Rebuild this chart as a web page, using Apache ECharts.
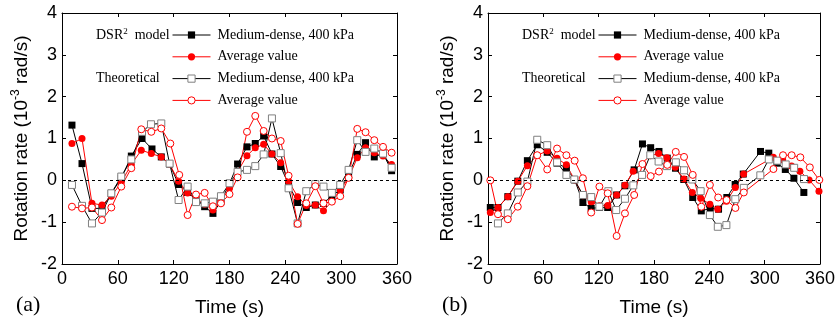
<!DOCTYPE html>
<html><head><meta charset="utf-8">
<script src="https://cdn.jsdelivr.net/npm/echarts@6/dist/echarts.min.js"></script>
<style>html,body{margin:0;padding:0;background:#fff}#c{width:838px;height:322px}</style>
</head><body><div id="c"></div>
<script>
// ---------- axis ticks ----------
const xTicks = [0, 60, 120, 180, 240, 300, 360];
const yTicks = [-2, -1, 0, 1, 2, 3, 4];

// ---------- panel (a) ----------
const aDsrMdT = [10.7, 21.5, 32.2, 43, 53, 63.7, 74.5, 86, 96.7, 106.7, 115.6, 125.3, 135, 144, 153.3, 162.2, 170.8, 180, 188.7, 198.8, 207.7, 216.7, 225.6, 235, 243.5, 253.2, 262.5, 272.2, 281, 290, 299, 308, 317.3, 326.2, 335.6, 345, 354.2];
const aDsrMdV = [1.32, 0.40, -0.67, -0.67, -0.31, 0.05, 0.58, 1.0, 0.75, 0.56, 0.39, -0.1, -0.29, -0.45, -0.63, -0.79, -0.5, -0.08, 0.39, 0.8, 0.88, 1.06, 0.63, 0.33, -0.1, -0.53, -0.65, -0.59, -0.55, -0.37, -0.23, 0.13, 0.62, 0.9, 0.56, 0.64, 0.23];

const aDsrAvgT = [10.7, 21.5, 32.2, 43, 53, 63.7, 74.5, 85.2, 96, 106.7, 115.6, 125.3, 135, 144, 153.3, 162.2, 170.8, 180, 188.7, 198.8, 207.7, 216.7, 225.6, 235, 243.5, 253.2, 262.5, 272.2, 281, 290, 299, 308, 317.3, 326.2, 335.6, 345, 354.2];
const aDsrAvgV = [0.88, 1.0, -0.55, -0.59, -0.38, -0.05, 0.38, 0.72, 0.64, 0.56, 0.39, -0.02, -0.3, -0.45, -0.57, -0.71, -0.5, -0.19, 0.21, 0.59, 0.78, 0.86, 0.63, 0.42, -0.02, -0.39, -0.6, -0.59, -0.73, -0.5, -0.23, 0.06, 0.54, 0.78, 0.66, 0.58, 0.38];

const aThMdT = [10.7, 21.5, 32.2, 43, 53, 63.7, 74.5, 86, 95.6, 106.7, 115.6, 125.3, 135, 144, 153.3, 162.2, 170.8, 180, 188.7, 198.8, 207.7, 216.7, 225.6, 235, 243.5, 253.2, 262.5, 272.2, 281, 290, 299, 308, 317.3, 326.2, 335.6, 345, 354.2];
const aThMdV = [-0.11, -0.61, -1.03, -0.77, -0.31, 0.09, 0.5, 1.16, 1.34, 1.36, 0.4, -0.47, -0.15, -0.52, -0.55, -0.51, -0.38, -0.07, 0.2, 0.25, 0.34, 0.62, 1.48, 0.65, -0.19, -1.03, -0.26, -0.09, -0.15, -0.3, -0.11, 0.25, 0.96, 0.68, 0.76, 0.64, 0.3];

const aThAvgT = [10.7, 21.5, 32.2, 43, 53, 63.7, 74.5, 85.2, 96, 106.7, 116.4, 126, 135, 144, 153.3, 162.2, 170.8, 180, 188.7, 198.8, 207.7, 216.7, 225.6, 235, 243.5, 253.2, 262.5, 272.2, 281, 290, 299, 308, 317.3, 326.2, 335.6, 345, 354.2];
const aThAvgV = [-0.63, -0.67, -0.65, -0.95, -0.65, -0.15, 0.29, 1.22, 1.16, 1.24, 0.88, 0.13, -0.83, -0.34, -0.3, -0.62, -0.55, -0.33, 0.07, 1.16, 1.54, 1.18, 1.0, 0.94, 0.11, -1.04, -0.55, -0.14, -0.55, -0.51, -0.38, 0.06, 1.23, 1.15, 0.96, 0.8, 0.66];

// ---------- panel (b) ----------
const bDsrMdT = [2.5, 10.8, 21.5, 32.3, 42.7, 53.4, 64.2, 74.9, 85, 94, 102.9, 111.9, 120.8, 129.8, 139.5, 148.5, 158.5, 167.5, 176.4, 185.4, 194.4, 203.3, 212.3, 222, 231.3, 241, 250, 259, 268, 276.8, 295.5, 304.5, 313.4, 322.4, 331.7, 342.5];
const bDsrMdV = [-0.65, -0.65, -0.39, -0.02, 0.47, 0.85, 0.67, 0.41, 0.29, 0.01, -0.53, -0.67, -0.65, -0.65, -0.35, -0.13, 0.25, 0.87, 0.78, 0.69, 0.53, 0.29, 0.02, -0.41, -0.73, -0.67, -0.69, -0.41, -0.1, 0.15, 0.69, 0.65, 0.41, 0.26, 0.05, -0.29];

const bDsrAvgT = [2.5, 10.8, 21.5, 32.3, 42.7, 53.4, 64.2, 74.9, 85, 94, 102.9, 111.9, 120.8, 129.8, 139.5, 148.5, 157.4, 176, 185, 194, 203, 212.5, 221.6, 230.6, 240.6, 249.2, 258.5, 268.2, 277.2, 309.4, 319.5, 329.2, 338.2, 348.2, 358.9];
const bDsrAvgV = [-0.77, -0.65, -0.39, -0.02, 0.35, 0.6, 0.7, 0.53, 0.37, 0.01, -0.37, -0.51, -0.61, -0.6, -0.35, -0.12, 0.22, 0.59, 0.64, 0.54, 0.31, 0.03, -0.29, -0.43, -0.57, -0.69, -0.5, -0.17, 0.15, 0.55, 0.5, 0.34, 0.22, 0.01, -0.26];

const bThMdT = [10.8, 21.5, 32.3, 42.7, 53.4, 64.2, 74.9, 85, 93.6, 102.9, 111.9, 120.8, 130.5, 139, 148.5, 157.6, 167.1, 176, 185, 194, 203.7, 212.6, 221.6, 230.6, 240.6, 249.2, 258.5, 268.2, 277.4, 295.3, 304.5, 313.8, 322.8, 332, 342.7];
const bThMdV = [-1.03, -0.79, -0.29, -0.03, 0.97, 0.84, 0.43, 0.13, 0.02, -0.35, -0.4, -0.63, -0.26, -0.71, -0.44, -0.12, 0.13, 0.6, 0.45, 0.34, 0.43, 0.24, 0.02, -0.26, -0.83, -1.11, -1.07, -0.45, -0.18, 0.12, 0.5, 0.47, 0.38, 0.3, 0.03];

const bThAvgT = [2.5, 10.8, 21.5, 32.3, 42.7, 53.4, 64.2, 74.9, 85, 94, 102.9, 111.9, 120.8, 129.8, 139.5, 148.5, 158.5, 167.5, 176.4, 185.4, 194.4, 203.6, 212.6, 222, 231.3, 240.6, 249.6, 258.7, 268.3, 277.4, 309.5, 319.9, 329.3, 338.7, 349, 359.3];
const bThAvgV = [0.0, -0.81, -0.93, -0.63, -0.14, 0.6, 0.26, 0.76, 0.6, 0.47, 0.05, -0.77, -0.15, -0.31, -1.33, -0.79, -0.35, 0.39, 0.1, 0.21, 0.37, 0.68, 0.56, 0.13, -0.63, -0.11, -0.41, -0.47, -0.66, -0.29, 0.27, 0.6, 0.6, 0.55, 0.31, 0.01];

// ---------- texts ----------
const seriesNames = ['dsrMd', 'dsrAvg', 'thMd', 'thAvg'];
const legendLabels = {dsrMd: 'Medium-dense, 400 kPa', dsrAvg: 'Average value', thMd: 'Medium-dense, 400 kPa', thAvg: 'Average value'};
const panelLabels = ['(a)', '(b)'];
const xTitle = 'Time (s)';

// ---------- build ----------
const zip = (t, v) => t.map((x, i) => [x, v[i]]);
const SANS = 'Liberation Sans, Arial, sans-serif';
const SERIF = 'Liberation Serif, Times New Roman, serif';
const RED = '#ff0000';

const panels = [
  {left: 62, right: 441, dsrMd: zip(aDsrMdT, aDsrMdV), dsrAvg: zip(aDsrAvgT, aDsrAvgV), thMd: zip(aThMdT, aThMdV), thAvg: zip(aThAvgT, aThAvgV)},
  {left: 488, right: 16, dsrMd: zip(bDsrMdT, bDsrMdV), dsrAvg: zip(bDsrAvgT, bDsrAvgV), thMd: zip(bThMdT, bThMdV), thAvg: zip(bThAvgT, bThAvgV)}
];

const grid = [], xAxis = [], yAxis = [], series = [], legend = [], graphic = [];
const tick = {show: true, inside: true, length: 4, lineStyle: {color: '#000', width: 1}};
const line = {show: true, onZero: false, lineStyle: {color: '#000', width: 1}};

panels.forEach((p, i) => {
  grid.push({left: p.left, right: p.right, top: 13, bottom: 58, containLabel: false});
  xAxis.push({type: 'value', gridIndex: i, min: xTicks[0], max: xTicks[xTicks.length - 1], interval: 60, position: 'bottom',
    axisLine: line, axisTick: tick, splitLine: {show: false},
    axisLabel: {color: '#000', fontSize: 18, fontFamily: SANS, margin: 6},
    name: xTitle, nameLocation: 'middle', nameGap: 34, nameTextStyle: {color: '#000', fontSize: 19, fontFamily: SANS}});
  xAxis.push({type: 'value', gridIndex: i, min: xTicks[0], max: xTicks[xTicks.length - 1], interval: 60, position: 'top',
    axisLine: line, axisTick: tick, splitLine: {show: false}, axisLabel: {show: false}});
  yAxis.push({type: 'value', gridIndex: i, min: yTicks[0], max: yTicks[yTicks.length - 1], interval: 1, position: 'left',
    axisLine: line, axisTick: tick, splitLine: {show: false},
    axisLabel: {color: '#000', fontSize: 18, fontFamily: SANS, margin: 5},
    name: '{n|Rotation rate (10}{s|-3}{n| rad/s)}', nameLocation: 'middle', nameGap: 28,
    nameTextStyle: {color: '#000', rich: {n: {fontSize: 19, fontFamily: SANS, color: '#000'}, s: {fontSize: 12, fontFamily: SANS, color: '#000', padding: [0, 0, 12, 0]}}}});
  yAxis.push({type: 'value', gridIndex: i, min: yTicks[0], max: yTicks[yTicks.length - 1], interval: 1, position: 'right',
    axisLine: line, axisTick: tick, splitLine: {show: false}, axisLabel: {show: false}});

  const xi = i * 2, yi = i * 2;
  series.push({name: 'dsrMd', type: 'line', xAxisIndex: xi, yAxisIndex: yi, data: p.dsrMd,
    symbol: 'rect', symbolSize: 7, lineStyle: {color: '#000', width: 1}, itemStyle: {color: '#000'},
    markLine: {silent: true, symbol: 'none', label: {show: false}, lineStyle: {color: '#000', width: 1, type: [3, 3]}, data: [{yAxis: 0}]}});
  series.push({name: 'dsrAvg', type: 'line', xAxisIndex: xi, yAxisIndex: yi, data: p.dsrAvg,
    symbol: 'circle', symbolSize: 7, lineStyle: {color: RED, width: 1}, itemStyle: {color: RED}});
  series.push({name: 'thMd', type: 'line', xAxisIndex: xi, yAxisIndex: yi, data: p.thMd,
    symbol: 'rect', symbolSize: 7, lineStyle: {color: '#000', width: 1}, itemStyle: {color: '#fff', borderColor: '#808080', borderWidth: 1}});
  series.push({name: 'thAvg', type: 'line', xAxisIndex: xi, yAxisIndex: yi, data: p.thAvg,
    symbol: 'circle', symbolSize: 7, lineStyle: {color: RED, width: 1}, itemStyle: {color: '#fff', borderColor: RED, borderWidth: 1}});

  const lx = p.left + 110;
  legend.push({data: seriesNames, orient: 'vertical', left: lx, top: 28, padding: 0, itemWidth: 38, itemHeight: 9, itemGap: 7.8,
    selectedMode: false, formatter: n => legendLabels[n], lineStyle: {width: 1}, itemStyle: {borderWidth: 1},
    textStyle: {color: '#000', fontSize: 14, fontFamily: SERIF, lineHeight: 14, padding: [0, 0, 0, 2]}});

  graphic.push({type: 'text', left: p.left + 34, top: 27, style: {rich: {n: {fontSize: 14, fontFamily: SERIF, fill: '#000'}, s: {fontSize: 9, fontFamily: SERIF, fill: '#000', padding: [0, 0, 8, 0]}}, text: '{n|DSR}{s|2}{n|  model}'}});
  graphic.push({type: 'text', left: p.left + 34, top: 71, style: {text: 'Theoretical', fontSize: 14, fontFamily: SERIF, fill: '#000'}});
  graphic.push({type: 'text', left: p.left - 46, top: 294, style: {text: panelLabels[i], fontSize: 22, fontFamily: SERIF, fill: '#000'}});
});

const chart = echarts.init(document.getElementById('c'), null, {renderer: 'canvas'});
chart.setOption({animation: false, backgroundColor: '#fff', grid, xAxis, yAxis, series, legend, graphic, tooltip: {show: false}});
</script></body></html>
